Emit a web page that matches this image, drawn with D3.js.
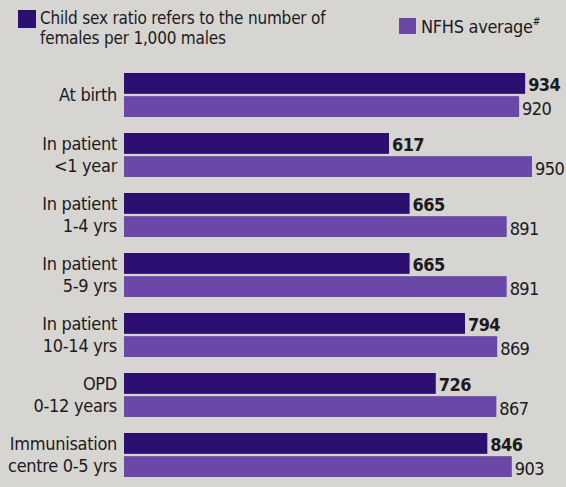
<!DOCTYPE html>
<html>
<head>
<meta charset="utf-8">
<script src="https://cdn.jsdelivr.net/npm/d3@7"></script>
<style>
  html, body { margin: 0; padding: 0; background: #d7d5d1; }
  svg { display: block; }
  text { font-family: "DejaVu Sans Condensed", "Liberation Sans Narrow", "Roboto", sans-serif; font-stretch: condensed; fill: #1b1a1e; }
</style>
</head>
<body>
<script>
const categories = [
  ["At birth"],
  ["In patient", "<1 year"],
  ["In patient", "1-4 yrs"],
  ["In patient", "5-9 yrs"],
  ["In patient", "10-14 yrs"],
  ["OPD", "0-12 years"],
  ["Immunisation", "centre 0-5 yrs"]
];
const childSexRatio = [934, 617, 665, 665, 794, 726, 846];
const nfhsAverage = [920, 950, 891, 891, 869, 867, 903];
const seriesNames = ["Child sex ratio refers to the number of|females per 1,000 males", "NFHS average"];
const colors = ["#2d0f72", "#6a48a8"];

const W = 566, H = 487;
const svg = d3.select("body").append("svg").attr("width", W).attr("height", H);

svg.append("rect").attr("width", W).attr("height", H).attr("fill", "#d7d5d1");

const keys = categories.map((c, i) => "c" + i);
const y = d3.scaleBand().domain(keys).range([73, 477]).paddingInner(0.2667).paddingOuter(0);
const ySub = d3.scaleBand().domain(["a", "b"]).range([0, y.bandwidth()]).paddingInner(0.1);
const x = d3.scaleLinear().domain([0, 950]).range([124, 532]);

const rows = keys.map((k, i) => ({ k, cat: categories[i], a: childSexRatio[i], b: nfhsAverage[i] }));

const g = svg.selectAll("g.row").data(rows).join("g").attr("class", "row")
  .attr("transform", d => `translate(0,${y(d.k)})`);

["a", "b"].forEach((s, si) => {
  g.append("rect")
    .attr("x", x(0))
    .attr("y", ySub(s))
    .attr("width", d => x(d[s]) - x(0))
    .attr("height", ySub.bandwidth())
    .attr("fill", colors[si]);
  g.append("text")
    .attr("x", d => x(d[s]) + 3)
    .attr("y", ySub(s) + ySub.bandwidth() / 2 + 8)
    .attr("font-size", 18)
    .attr("letter-spacing", -0.6)
    .attr("font-weight", si === 0 ? "bold" : "normal")
    .text(d => d[s]);
});

// category labels
g.each(function(d) {
  const sel = d3.select(this);
  const n = d.cat.length;
  const lh = 23;
  const center = y.bandwidth() / 2;
  d.cat.forEach((line, li) => {
    sel.append("text")
      .attr("x", 117)
      .attr("y", center + (li - (n - 1) / 2) * lh + 6)
      .attr("text-anchor", "end")
      .attr("font-size", 18)
      .attr("letter-spacing", -0.3)
      .text(line);
  });
});

// legend
const leg = svg.append("g");
leg.append("rect").attr("x", 18).attr("y", 10).attr("width", 18).attr("height", 18).attr("fill", colors[0]);
seriesNames[0].split("|").forEach((t, i) => {
  leg.append("text").attr("x", 40).attr("y", 24 + i * 20).attr("font-size", 17).attr("letter-spacing", -0.2).text(t);
});
leg.append("rect").attr("x", 399).attr("y", 18).attr("width", 17).attr("height", 16).attr("fill", colors[1]);
leg.append("text").attr("x", 421).attr("y", 33).attr("font-size", 18).attr("letter-spacing", -0.3).text(seriesNames[1]).append("tspan")
  .attr("font-size", 10).attr("dy", -8).text("#");
</script>
</body>
</html>
